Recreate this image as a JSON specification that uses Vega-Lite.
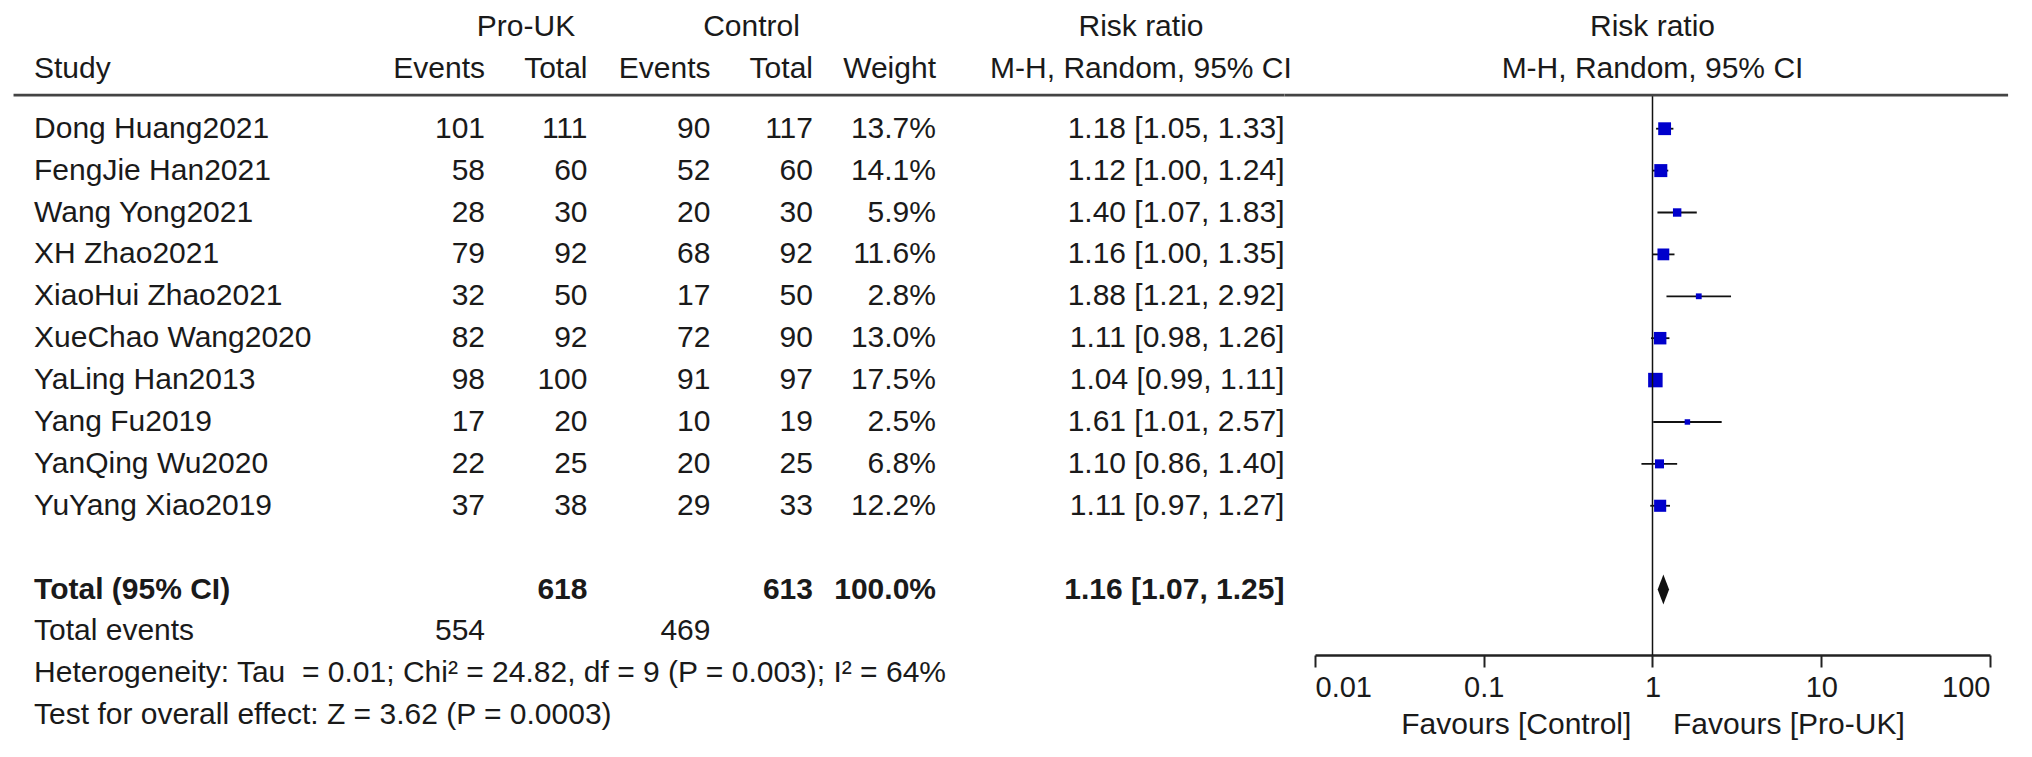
{
  "$schema": "https://vega.github.io/schema/vega-lite/v6.json",
  "padding": 0,
  "background": "white",
  "bounds": "flush",
  "spacing": 17,
  "config": {
    "view": {"stroke": null},
    "text": {"font": "Liberation Sans", "fontSize": 30, "color": "#1a1a1a", "baseline": "middle"},
    "axis": {"labelFont": "Liberation Sans", "titleFont": "Liberation Sans"}
  },
  "datasets": {
    "studies": [
      {"row": 1, "study": "Dong Huang2021", "e1": 101, "n1": 111, "e2": 90, "n2": 117, "w": 0.137, "rr": 1.18, "lo": 1.05, "hi": 1.33, "ci": "1.18 [1.05, 1.33]"},
      {"row": 2, "study": "FengJie Han2021", "e1": 58, "n1": 60, "e2": 52, "n2": 60, "w": 0.141, "rr": 1.12, "lo": 1.00, "hi": 1.24, "ci": "1.12 [1.00, 1.24]"},
      {"row": 3, "study": "Wang Yong2021", "e1": 28, "n1": 30, "e2": 20, "n2": 30, "w": 0.059, "rr": 1.40, "lo": 1.07, "hi": 1.83, "ci": "1.40 [1.07, 1.83]"},
      {"row": 4, "study": "XH Zhao2021", "e1": 79, "n1": 92, "e2": 68, "n2": 92, "w": 0.116, "rr": 1.16, "lo": 1.00, "hi": 1.35, "ci": "1.16 [1.00, 1.35]"},
      {"row": 5, "study": "XiaoHui Zhao2021", "e1": 32, "n1": 50, "e2": 17, "n2": 50, "w": 0.028, "rr": 1.88, "lo": 1.21, "hi": 2.92, "ci": "1.88 [1.21, 2.92]"},
      {"row": 6, "study": "XueChao Wang2020", "e1": 82, "n1": 92, "e2": 72, "n2": 90, "w": 0.130, "rr": 1.11, "lo": 0.98, "hi": 1.26, "ci": "1.11 [0.98, 1.26]"},
      {"row": 7, "study": "YaLing Han2013", "e1": 98, "n1": 100, "e2": 91, "n2": 97, "w": 0.175, "rr": 1.04, "lo": 0.99, "hi": 1.11, "ci": "1.04 [0.99, 1.11]"},
      {"row": 8, "study": "Yang Fu2019", "e1": 17, "n1": 20, "e2": 10, "n2": 19, "w": 0.025, "rr": 1.61, "lo": 1.01, "hi": 2.57, "ci": "1.61 [1.01, 2.57]"},
      {"row": 9, "study": "YanQing Wu2020", "e1": 22, "n1": 25, "e2": 20, "n2": 25, "w": 0.068, "rr": 1.10, "lo": 0.86, "hi": 1.40, "ci": "1.10 [0.86, 1.40]"},
      {"row": 10, "study": "YuYang Xiao2019", "e1": 37, "n1": 38, "e2": 29, "n2": 33, "w": 0.122, "rr": 1.11, "lo": 0.97, "hi": 1.27, "ci": "1.11 [0.97, 1.27]"}
    ],
    "total": [
      {"row": 12, "label": "Total (95% CI)", "n1": 618, "n2": 613, "w": 1.0, "rr": 1.16, "lo": 1.07, "hi": 1.25, "ci": "1.16 [1.07, 1.25]"}
    ],
    "events": [
      {"row": 13, "label": "Total events", "e1": 554, "e2": 469}
    ],
    "notes": [
      {"row": 14, "label": "Heterogeneity: Tau\u00a0\u00a0= 0.01; Chi² = 24.82, df = 9 (P = 0.003); I² = 64%"},
      {"row": 15, "label": "Test for overall effect: Z = 3.62 (P = 0.0003)"}
    ],
    "hdr": [
      {"row": -1, "col": "proUK", "label": "Pro-UK"},
      {"row": -1, "col": "control", "label": "Control"},
      {"row": -1, "col": "rrHead", "label": "Risk ratio"},
      {"row": 0, "col": "study", "label": "Study"},
      {"row": 0, "col": "e1", "label": "Events"},
      {"row": 0, "col": "n1", "label": "Total"},
      {"row": 0, "col": "e2", "label": "Events"},
      {"row": 0, "col": "n2", "label": "Total"},
      {"row": 0, "col": "w", "label": "Weight"},
      {"row": 0, "col": "rrHead", "label": "M-H, Random, 95% CI"}
    ],
    "rhdr": [
      {"row": -1, "label": "Risk ratio"},
      {"row": 0, "label": "M-H, Random, 95% CI"}
    ]
  },
  "hconcat": [
    {
      "width": 1298,
      "height": 757,
      "layer": [
        {
          "data": {"values": [{}]},
          "mark": {"type": "rule", "color": "#444444", "strokeWidth": 2.8},
          "encoding": {
            "x": {"datum": "_m23", "type": "nominal", "axis": null,
              "scale": {"type": "point", "padding": 0.66, "domain": ["_m23","study","_m21","_m20","_m19","_m18","_m17","_m16","_m15","_m14","_m13","_m12","_m11","_m10","_m9","_m8","_m7","_m6","_m5","_m4","_m3","_m2","_m1","e1","_1","proUK","_3","_4","n1","_6","_7","_8","_9","_10","e2","_12","control","_14","_15","n2","_17","_18","_19","_20","_21","w","_23","_24","_25","_26","_27","_28","_29","_30","_31","rrHead","_33","_34","_35","_36","_37","_38","ci"]}},
            "x2": {"datum": "ci"},
            "y": {"datum": 0.2, "type": "quantitative", "axis": null,
              "scale": {"domain": [-2.072, 15.996], "reverse": true, "nice": false, "zero": false}}
          }
        },
        {
          "data": {"name": "hdr"},
          "transform": [{"filter": "datum.col === 'study'"}],
          "mark": {"type": "text", "align": "left", "dy": -18},
          "encoding": {
            "x": {"field": "col", "type": "nominal", "axis": null},
            "y": {"field": "row", "type": "quantitative", "axis": null},
            "text": {"field": "label"}
          }
        },
        {
          "data": {"name": "hdr"},
          "transform": [{"filter": {"field": "col", "oneOf": ["e1", "n1", "e2", "n2", "w"]}}],
          "mark": {"type": "text", "align": "right", "dy": -18},
          "encoding": {
            "x": {"field": "col", "type": "nominal", "axis": null},
            "y": {"field": "row", "type": "quantitative", "axis": null},
            "text": {"field": "label"}
          }
        },
        {
          "data": {"name": "hdr"},
          "transform": [{"filter": {"field": "col", "oneOf": ["proUK", "control", "rrHead"]}}],
          "mark": {"type": "text", "align": "center", "dy": -18},
          "encoding": {
            "x": {"field": "col", "type": "nominal", "axis": null},
            "y": {"field": "row", "type": "quantitative", "axis": null},
            "text": {"field": "label"}
          }
        },
        {
          "data": {"name": "studies"},
          "mark": {"type": "text", "align": "left"},
          "encoding": {
            "x": {"datum": "study", "type": "nominal", "axis": null},
            "y": {"field": "row", "type": "quantitative", "axis": null},
            "text": {"field": "study"}
          }
        },
        {
          "data": {"name": "studies"},
          "transform": [{"fold": ["e1", "n1", "e2", "n2"], "as": ["col", "val"]}],
          "mark": {"type": "text", "align": "right"},
          "encoding": {
            "x": {"field": "col", "type": "nominal", "axis": null},
            "y": {"field": "row", "type": "quantitative", "axis": null},
            "text": {"field": "val", "type": "quantitative", "format": "d"}
          }
        },
        {
          "data": {"name": "studies"},
          "mark": {"type": "text", "align": "right"},
          "encoding": {
            "x": {"datum": "w", "type": "nominal", "axis": null},
            "y": {"field": "row", "type": "quantitative", "axis": null},
            "text": {"field": "w", "type": "quantitative", "format": ".1%"}
          }
        },
        {
          "data": {"name": "studies"},
          "mark": {"type": "text", "align": "right"},
          "encoding": {
            "x": {"datum": "ci", "type": "nominal", "axis": null},
            "y": {"field": "row", "type": "quantitative", "axis": null},
            "text": {"field": "ci"}
          }
        },
        {
          "data": {"name": "total"},
          "mark": {"type": "text", "align": "left", "fontWeight": "bold"},
          "encoding": {
            "x": {"datum": "study", "type": "nominal", "axis": null},
            "y": {"field": "row", "type": "quantitative", "axis": null},
            "text": {"field": "label"}
          }
        },
        {
          "data": {"name": "total"},
          "transform": [{"fold": ["n1", "n2"], "as": ["col", "val"]}],
          "mark": {"type": "text", "align": "right", "fontWeight": "bold"},
          "encoding": {
            "x": {"field": "col", "type": "nominal", "axis": null},
            "y": {"field": "row", "type": "quantitative", "axis": null},
            "text": {"field": "val", "type": "quantitative", "format": "d"}
          }
        },
        {
          "data": {"name": "total"},
          "mark": {"type": "text", "align": "right", "fontWeight": "bold"},
          "encoding": {
            "x": {"datum": "w", "type": "nominal", "axis": null},
            "y": {"field": "row", "type": "quantitative", "axis": null},
            "text": {"field": "w", "type": "quantitative", "format": ".1%"}
          }
        },
        {
          "data": {"name": "total"},
          "mark": {"type": "text", "align": "right", "fontWeight": "bold"},
          "encoding": {
            "x": {"datum": "ci", "type": "nominal", "axis": null},
            "y": {"field": "row", "type": "quantitative", "axis": null},
            "text": {"field": "ci"}
          }
        },
        {
          "data": {"name": "events"},
          "mark": {"type": "text", "align": "left"},
          "encoding": {
            "x": {"datum": "study", "type": "nominal", "axis": null},
            "y": {"field": "row", "type": "quantitative", "axis": null},
            "text": {"field": "label"}
          }
        },
        {
          "data": {"name": "events"},
          "transform": [{"fold": ["e1", "e2"], "as": ["col", "val"]}],
          "mark": {"type": "text", "align": "right"},
          "encoding": {
            "x": {"field": "col", "type": "nominal", "axis": null},
            "y": {"field": "row", "type": "quantitative", "axis": null},
            "text": {"field": "val", "type": "quantitative", "format": "d"}
          }
        },
        {
          "data": {"name": "notes"},
          "mark": {"type": "text", "align": "left"},
          "encoding": {
            "x": {"datum": "study", "type": "nominal", "axis": null},
            "y": {"field": "row", "type": "quantitative", "axis": null},
            "text": {"field": "label"}
          }
        }
      ]
    },
    {
      "width": 675,
      "height": 655,
      "layer": [
        {
          "data": {"name": "studies"},
          "mark": {"type": "rule", "color": "#111111", "strokeWidth": 1.8},
          "encoding": {
            "x": {"field": "lo", "type": "quantitative",
              "scale": {"type": "log", "domain": [0.01, 100], "nice": false},
              "axis": {"values": [0.01, 0.1, 1, 10, 100], "format": "~g", "grid": false,
                "labelFlush": true, "labelOverlap": false, "labelFontSize": 29, "labelColor": "#1a1a1a", "labelPadding": 6,
                "domainColor": "#222222", "domainWidth": 2.5, "tickColor": "#222222", "tickWidth": 2, "tickSize": 12,
                "title": "Favours [Control]\u00a0\u00a0\u00a0\u00a0\u00a0Favours [Pro-UK]", "titleFontSize": 30, "titleFontWeight": "normal",
                "titleColor": "#1a1a1a", "titlePadding": 7}},
            "x2": {"field": "hi"},
            "y": {"field": "row", "type": "quantitative", "axis": null,
              "scale": {"domain": [-2.072, 13.562], "reverse": true, "nice": false, "zero": false}}
          }
        },
        {
          "data": {"name": "studies"},
          "mark": {"type": "point", "shape": "square", "filled": true, "color": "#0000cc", "opacity": 1},
          "encoding": {
            "x": {"field": "rr", "type": "quantitative"},
            "y": {"field": "row", "type": "quantitative", "axis": null},
            "size": {"field": "w", "type": "quantitative", "legend": null,
              "scale": {"domain": [0, 0.175], "range": [0, 210]}}
          }
        },
        {
          "data": {"name": "total"},
          "mark": {"type": "point", "shape": "M0,-1L0.38,0L0,1L-0.38,0Z", "filled": true, "color": "#111111", "size": 900, "opacity": 1},
          "encoding": {
            "x": {"field": "rr", "type": "quantitative"},
            "y": {"field": "row", "type": "quantitative", "axis": null}
          }
        },
        {
          "data": {"values": [{}]},
          "mark": {"type": "rule", "color": "#111111", "strokeWidth": 1.5},
          "encoding": {
            "x": {"datum": 1, "type": "quantitative"},
            "y": {"datum": 0.2, "type": "quantitative", "axis": null},
            "y2": {"datum": 13.562}
          }
        },
        {
          "data": {"values": [{}]},
          "mark": {"type": "rule", "color": "#444444", "strokeWidth": 2.8},
          "encoding": {
            "x": {"datum": 0.0066, "type": "quantitative"},
            "x2": {"datum": 128},
            "y": {"datum": 0.2, "type": "quantitative", "axis": null}
          }
        },
        {
          "data": {"name": "rhdr"},
          "mark": {"type": "text", "align": "center", "dy": -18},
          "encoding": {
            "x": {"datum": 1, "type": "quantitative"},
            "y": {"field": "row", "type": "quantitative", "axis": null},
            "text": {"field": "label"}
          }
        }
      ]
    }
  ]
}
